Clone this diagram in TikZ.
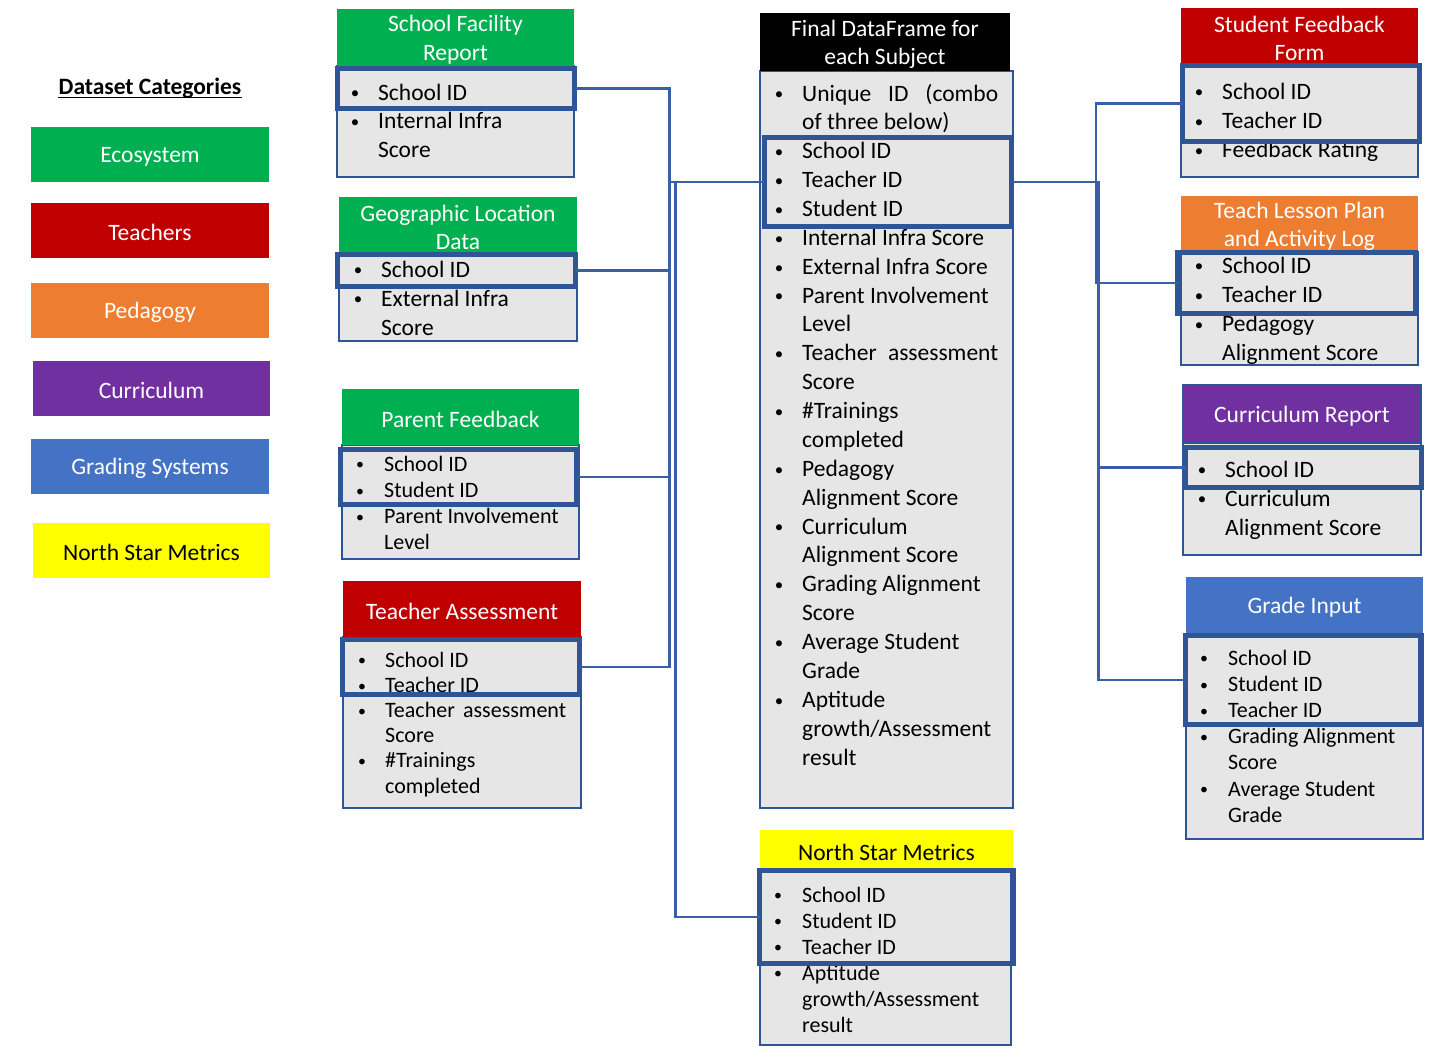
\documentclass[tikz,border=0pt]{standalone}
\usepackage{fontspec}
\usepackage{graphicx}
\setmainfont{Carlito}
\definecolor{cgreen}{HTML}{00B050}
\definecolor{cred}{HTML}{C00000}
\definecolor{corange}{HTML}{ED7D31}
\definecolor{cpurple}{HTML}{7030A0}
\definecolor{cblue}{HTML}{4472C4}
\definecolor{cyellow}{HTML}{FFFF00}
\definecolor{cgray}{HTML}{E7E6E6}
\definecolor{cborder}{HTML}{2F5597}
\definecolor{cconn}{HTML}{3A5FA6}
\newcommand\fbig{\fontsize{23.5}{28.5}\selectfont}
\newcommand\fsmall{\fontsize{22}{26}\selectfont}
\newcommand\bulletmark{\raisebox{1.2pt}{\scalebox{0.72}{•}}}
% rectangle node: style, name, x1, y1, x2, y2, content
\newcommand\rbox[7]{\node[#1, anchor=north west, inner sep=0pt, outer sep=0pt,
  minimum width={(#5-#3)*1pt}, minimum height={(#6-#4)*1pt}] (#2) at (#3,#4) {#7};}
% coloured box with its title: style, name, x1, y1, x2, y2, title
\newcommand\tbox[7]{\rbox{#1}{#2}{#3}{#4}{#5}{#6}{}
  \node[txtc, #1, fill=none, draw=none] (#2-txt) at ([yshift=-2.2pt]#2.center) {#7};}
% bullet rows: prefix, font, bullet x, text x, first baseline, spacing, list
\newcommand\itemrows[7]{%
  \foreach \k/\t [count=\i] in {#7}{%
    \pgfmathsetmacro\yy{#5+(\i-1)*#6}%
    \if\k b\node[anchor=base, inner sep=0pt, font=#2] (#1-b\i) at (#3,\yy) {\bulletmark};\fi
    \node[anchor=base west, inner sep=0pt, font=#2] (#1-t\i) at (#4,\yy) {\t};
  }}
\begin{document}
\begin{tikzpicture}[x=1pt,y=-1pt,
  txtc/.style={inner sep=0pt, align=center},
  legend/.style={text=white, font=\fbig},
  hdr/.style={text=white, font=\fbig},
  body/.style={fill=cgray, draw=cborder, line width=1.8pt},
  hl/.style={draw=cborder, line width=5pt},
  conn/.style={draw=cconn, line width=2.5pt}]
\useasboundingbox[fill=white] (0,0) rectangle (1437,1055);

% ---------- legend ----------
\node[anchor=base, inner sep=0pt, font=\bfseries\fbig] (title) at (150,94) {Dataset Categories};
\draw[line width=1.4pt] ([yshift=-3.5pt]title.base west) -- ([yshift=-3.5pt]title.base east);
\tbox{legend, fill=cgreen}{lg1}{31}{127}{269}{182}{Ecosystem}
\tbox{legend, fill=cred}{lg2}{31}{203}{269}{258}{Teachers}
\tbox{legend, fill=corange}{lg3}{31}{283}{269}{338}{Pedagogy}
\tbox{legend, fill=cpurple}{lg4}{33}{361}{270}{416}{Curriculum}
\tbox{legend, fill=cblue}{lg5}{31}{439}{269}{494}{Grading Systems}
\tbox{legend, fill=cyellow, text=black}{lg6}{33}{523}{270}{578}{North Star Metrics}

% ---------- bodies ----------
\rbox{body}{fac-b}{337}{66}{574}{177}{}
\rbox{body}{geo-b}{339}{253}{577}{341}{}
\rbox{body}{pf-b}{342}{445}{579}{559}{}
\rbox{body}{ta-b}{343}{637}{581}{808}{}
\rbox{body}{df-b}{760}{71}{1013}{808}{}
\rbox{body}{ns-b}{760}{870}{1011}{1045}{}
\rbox{body}{sf-b}{1181}{64}{1418}{177}{}
\rbox{body}{tl-b}{1181}{252}{1418}{365}{}
\rbox{body}{cr-b}{1183}{443}{1421}{555}{}
\rbox{body}{gi-b}{1186}{634}{1423}{839}{}

% ---------- headers ----------
\tbox{hdr, fill=cgreen}{fac-h}{337}{9}{574}{66}{School Facility\\Report}
\tbox{hdr, fill=cgreen}{geo-h}{339}{197}{577}{253}{Geographic Location\\Data}
\tbox{hdr, fill=cgreen}{pf-h}{342}{389}{579}{445}{Parent Feedback}
\tbox{hdr, fill=cred}{ta-h}{343}{581}{581}{637}{Teacher Assessment}
\tbox{hdr, fill=black}{df-h}{760}{13}{1010}{71}{Final DataFrame for\\each Subject}
\tbox{hdr, fill=cyellow, text=black}{ns-h}{760}{830}{1013}{870}{North Star Metrics}
\tbox{hdr, fill=cred}{sf-h}{1181}{8}{1418}{64}{Student Feedback\\Form}
\tbox{hdr, fill=corange}{tl-h}{1181}{196}{1418}{252}{Teach Lesson Plan\\and Activity Log}
\tbox{hdr, fill=cpurple, draw=cborder, line width=1.8pt}{cr-h}{1183}{385}{1421}{443}{Curriculum Report}
\tbox{hdr, fill=cblue}{gi-h}{1186}{577}{1423}{634}{Grade Input}

% ---------- rows ----------
\itemrows{fac}{\fbig}{355}{378}{100}{28.7}{b/School ID, b/Internal Infra, n/Score}
\itemrows{geo}{\fbig}{358}{381}{277}{29}{b/School ID, b/External Infra, n/Score}
\itemrows{pf}{\fsmall}{360}{384}{471}{26.3}{b/School ID, b/Student ID, b/Parent Involvement, n/Level}
\itemrows{ta}{\fsmall}{362}{385}{667}{25.2}{b/School ID, b/Teacher ID, b/{\makebox[181pt][s]{Teacher assessment}}, n/Score, b/\#Trainings, n/completed}
\itemrows{df}{\fbig}{779}{802}{101}{28.87}{b/{\makebox[196pt][s]{Unique ID (combo}}, n/of three below), b/School ID, b/Teacher ID, b/Student ID, b/Internal Infra Score, b/External Infra Score, b/Parent Involvement, n/Level, b/{\makebox[196pt][s]{Teacher assessment}}, n/Score, b/\#Trainings, n/completed, b/Pedagogy, n/Alignment Score, b/Curriculum, n/Alignment Score, b/Grading Alignment, n/Score, b/Average Student, n/Grade, b/Aptitude, n/{growth/Assessment}, n/result}
\itemrows{ns}{\fsmall}{778}{802}{902}{26}{b/School ID, b/Student ID, b/Teacher ID, b/Aptitude, n/{growth/Assessment}, n/result}
\itemrows{sf}{\fbig}{1199}{1222}{99}{29.3}{b/School ID, b/Teacher ID, b/Feedback Rating}
\itemrows{tl}{\fbig}{1199}{1222}{273}{29.3}{b/School ID, b/Teacher ID, b/Pedagogy, n/Alignment Score}
\itemrows{cr}{\fbig}{1202}{1225}{477}{29}{b/School ID, b/Curriculum, n/Alignment Score}
\itemrows{gi}{\fsmall}{1204}{1228}{665}{26.2}{b/School ID, b/Student ID, b/Teacher ID, b/Grading Alignment, n/Score, b/Average Student, n/Grade}

% ---------- key highlights ----------
\rbox{hl}{fac-hl}{337.5}{68}{574.5}{108.5}{}
\rbox{hl}{geo-hl}{337.5}{254.5}{575.5}{286.5}{}
\rbox{hl}{pf-hl}{340}{449}{576.5}{504.5}{}
\rbox{hl}{ta-hl}{342.5}{639.5}{579.5}{694.5}{}
\rbox{hl}{df-hl}{764}{137.5}{1011}{226.5}{}
\rbox{hl}{ns-hl}{759.5}{870.5}{1013}{963.5}{}
\rbox{hl}{sf-hl}{1182.5}{65.5}{1419.5}{141.5}{}
\rbox{hl}{tl-hl}{1177.5}{252.5}{1415.5}{313}{}
\rbox{hl}{cr-hl}{1185.5}{447.5}{1421.5}{487}{}
\rbox{hl}{gi-hl}{1185.5}{635.5}{1420.5}{724}{}

% ---------- connectors ----------
\coordinate (LT) at (669.5,0);
\coordinate (LB) at (675.5,0);
\coordinate (RB) at (1096,0);
\coordinate (RA) at (1098.5,0);
\draw[conn] (fac-hl.east) -- (fac-hl.east -| LT) -- (ta-hl.east -| LT) -- (ta-hl.east);
\draw[conn] (geo-hl.east) -- (geo-hl.east -| LT);
\draw[conn] (pf-hl.east) -- (pf-hl.east -| LT);
\draw[conn] (df-hl.west) -- (df-hl.west -| LT);
\draw[conn] (df-hl.west -| LB) -- (ns-hl.west -| LB) -- (ns-hl.west);
\draw[conn] (df-hl.east) -- (df-hl.east -| RA) -- (gi-hl.west -| RA) -- (gi-hl.west);
\draw[conn] (cr-hl.west) -- (cr-hl.west -| RA);
\draw[conn] (sf-hl.west) -- (sf-hl.west -| RB) -- (tl-hl.west -| RB) -- (tl-hl.west);
\end{tikzpicture}
\end{document}
